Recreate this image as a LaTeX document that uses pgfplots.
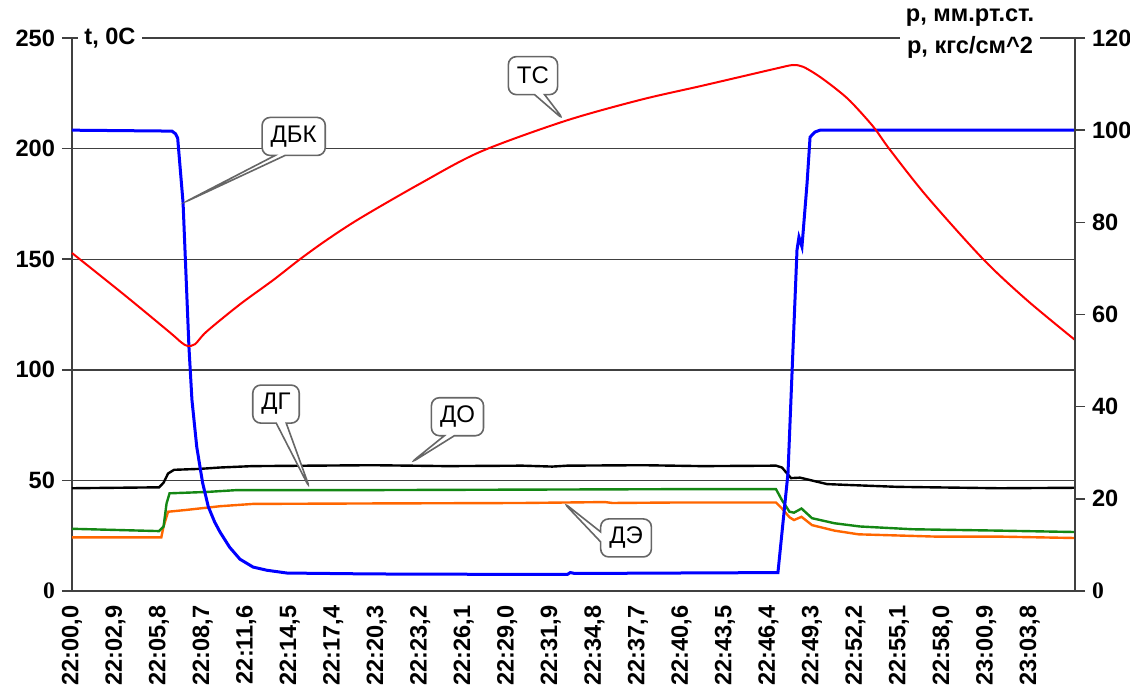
\documentclass[border=0pt]{standalone}
\usepackage{pgfplots}
\pgfplotsset{compat=1.18}
\usepackage{fontspec}
\setmainfont{Liberation Sans}
\newfontfamily\tnr{Liberation Serif}
\usetikzlibrary{shapes.callouts}

\definecolor{cgreen}{RGB}{20,135,20}
\definecolor{corange}{RGB}{255,102,0}

\newcommand{\tickfont}{\fontsize{11.8}{13}\selectfont\bfseries}

\tikzset{
  callbox/.style={rectangle callout, draw=black!60, line width=0.8pt,
    rounded corners=4pt, fill=white, font=\fontsize{12}{14}\selectfont,
    minimum height=19pt, inner xsep=4.3pt, callout pointer width=5pt}
}

\begin{document}
\begin{tikzpicture}
\path[use as bounding box] (0,0) rectangle (565pt,346.5pt);

\pgfplotsset{
  commonax/.style={
    at={(36pt,51pt)}, anchor=south west, scale only axis,
    width=501.5pt, height=276.5pt,
    xmin=0, xmax=66.82,
    axis line style={draw=black!75, line width=0.75pt},
    tick align=outside, major tick length=5pt,
    tick style={draw=black!75, line width=0.75pt},
    ticklabel style={font=\tickfont},
  },
}

% ---------------- main axis (left scale, all series) ----------------
\begin{axis}[commonax,
  ymin=0, ymax=250,
  ytick={0,50,100,150,200,250},
  yticklabels={{\tnr 0},50,100,150,200,250},
  ytick pos=left,
  ymajorgrids, grid style={draw=black!75, line width=0.7pt},
  xtick={0,2.9,5.8,8.7,11.6,14.5,17.4,20.3,23.2,26.1,29.0,31.9,34.8,37.7,40.6,43.5,46.4,49.3,52.2,55.1,58.0,60.9,63.8},
  xticklabels={{22:00,0},{22:02,9},{22:05,8},{22:08,7},{22:11,6},{22:14,5},{22:17,4},{22:20,3},{22:23,2},{22:26,1},{22:29,0},{22:31,9},{22:34,8},{22:37,7},{22:40,6},{22:43,5},{22:46,4},{22:49,3},{22:52,2},{22:55,1},{22:58,0},{23:00,9},{23:03,8}},
  xticklabel style={rotate=90, anchor=east, inner sep=2pt},
  x tick style={draw=none},
  xtick pos=bottom,
  clip=false,
]
% ДЭ (right scale, converted)
\addplot[corange, line width=1.2pt, y filter/.expression={y*250/120}] coordinates {
(0,11.65) (5.95,11.65) (6.1,14) (6.4,17.2) (7.64,17.6) (9.86,18.4) (12.06,18.9)
(20,19.0) (30,19.1) (35.5,19.3) (36,19.1) (40,19.2) (46.9,19.2)
(47.3,17.9) (47.8,16.0) (48.1,15.4) (48.6,16.1) (49.3,14.3) (50.8,13.1)
(52.4,12.3) (57.6,11.8) (61.8,11.8) (66.82,11.5)};
% ДГ
\addplot[cgreen, line width=1.2pt, y filter/.expression={y*250/120}] coordinates {
(0,13.5) (5.8,13.0) (6.1,14) (6.3,19) (6.5,21.2) (9,21.5) (11,21.9)
(20,21.9) (30,22.0) (40,22.1) (46.9,22.1)
(47.3,19.7) (47.8,17.2) (48.1,17.0) (48.6,17.9) (49.3,15.8) (50.8,14.7)
(52.5,14.0) (56.0,13.4) (61.8,13.1) (66.82,12.8)};
% ДО
\addplot[black, line width=1.2pt, y filter/.expression={y*250/120}] coordinates {
(0,22.3) (5.8,22.5) (6.1,23.5) (6.4,25.5) (6.8,26.3) (8.5,26.5) (9.86,26.8)
(12,27.1) (16,27.2) (20,27.3) (25,27.1) (30,27.2) (32,27.0) (33,27.2)
(38,27.3) (42,27.1) (46.9,27.2)
(47.3,26.8) (47.9,24.5) (48.5,24.6) (50.3,23.2) (51.8,23.0) (55,22.6)
(61.8,22.3) (66.82,22.4)};
% ДБК
\addplot[blue, line width=1.5pt, y filter/.expression={y*250/120}] coordinates {
(0,100) (6.66,99.8) (6.9,99.2) (7.04,98.3) (7.40,84.2) (7.79,53) (7.99,41.5)
(8.31,31.3) (8.7,23.5) (9.08,18.3) (9.5,15) (9.86,12.8) (10.5,9.5) (11.19,6.9)
(12.06,5.2) (12.99,4.5) (14.32,3.9) (20,3.7) (30,3.6) (33.0,3.6) (33.2,4.0)
(33.5,3.8) (40,3.9) (47.03,4.0)
(47.7,25.6) (48.03,52.3) (48.3,74) (48.43,76.8) (48.63,74.7) (48.97,88.5)
(49.17,98.5) (49.5,99.6) (49.83,100) (66.82,100)};
% ТС
\addplot[red, line width=1pt, smooth, tension=0.5] coordinates {
(0,152.8) (3.5,133.8) (6.5,117) (7.3,112.3) (7.7,110.8) (8.2,111.6)
(8.97,117.3) (11.19,129.6) (13.41,140.6) (15.19,150) (16.97,158.7) (19.19,168.5)
(23.2,184.2) (27.18,198.5) (32.85,212.5) (37.84,222) (41.84,228.2) (44.5,232.4)
(46.97,236.3) (48.03,237.8) (48.7,237) (49.64,233.3) (50.71,228) (51.84,221.5)
(53.37,210) (54.5,199.4) (56.96,178.3) (60.69,150.1) (63.6,131.6) (66.82,113.5)};

% axis titles
\node[anchor=west, fill=white, inner sep=3pt, font=\tickfont] at (axis cs:0.4,250) {t, 0C};
\node[fill=white, align=center, inner sep=3pt, font=\fontsize{11.8}{16}\selectfont\bfseries]
  at (axis cs:59.83,251.8) {p, мм.рт.ст.\\p, кгс/см\textasciicircum 2};

% callouts
\node[callbox, callout absolute pointer={(axis cs:32.78,212.9)}] at (axis cs:30.71,233.0) {ТС};
\node[callbox, callout absolute pointer={(axis cs:7.40,175.4)}] at (axis cs:14.77,205.5) {ДБК};
\node[callbox, callout absolute pointer={(axis cs:15.86,46.1)}] at (axis cs:13.59,84.5) {ДГ};
\node[callbox, callout absolute pointer={(axis cs:22.52,57.7)}] at (axis cs:25.68,78.8) {ДО};
\node[callbox, callout absolute pointer={(axis cs:32.71,40.2)}] at (axis cs:36.91,24.0) {ДЭ};
\end{axis}

% ---------------- right scale ----------------
\begin{axis}[commonax,
  ymin=0, ymax=120,
  ytick={0,20,40,60,80,100,120},
  yticklabels={{\tnr 0},20,40,60,80,100,120},
  axis x line=none, axis y line*=right,
  ytick pos=right, yticklabel pos=right,
]
\end{axis}
\end{tikzpicture}
\end{document}
